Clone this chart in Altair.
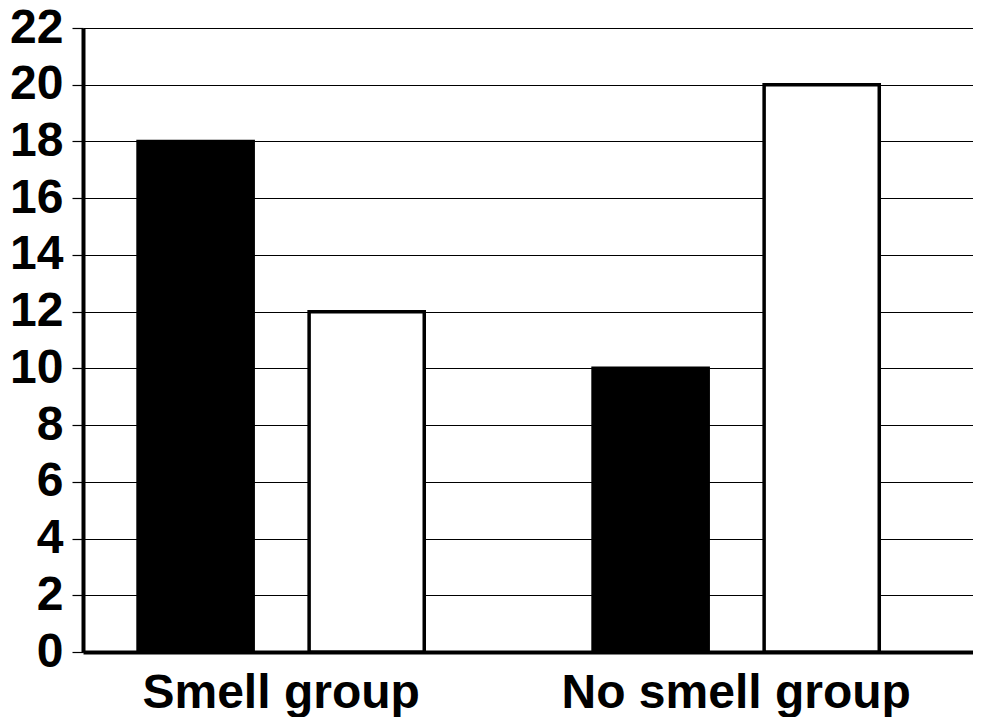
import altair as alt
import pandas as pd

groups = ["Smell group", "No smell group"]
series = ["A", "B"]
values_smell = [18, 12]
values_nosmell = [10, 20]
y_ticks = list(range(0, 23, 2))

rows = []
for s, v in zip(series, values_smell):
    rows.append({"group": groups[0], "series": s, "value": v})
for s, v in zip(series, values_nosmell):
    rows.append({"group": groups[1], "series": s, "value": v})
df = pd.DataFrame(rows)

FONT = "Liberation Sans"

chart = alt.Chart(df).mark_bar(stroke="black", strokeWidth=3.5).encode(
    x=alt.X("group:N", sort=groups, title=None,
            scale=alt.Scale(paddingInner=0.371, paddingOuter=0.1635, align=0.37),
            axis=alt.Axis(labelAngle=0, ticks=False, tickSize=0, domainWidth=4, domainColor="black",
                          labelFont=FONT, labelFontSize=48, labelFontWeight="bold",
                          labelColor="black", labelPadding=17, labelLimit=0, grid=False)),
    xOffset=alt.XOffset("series:N", sort=series,
                        scale=alt.Scale(paddingInner=0.327, paddingOuter=0)),
    y=alt.Y("value:Q", title=None,
            scale=alt.Scale(domain=[0, 22], nice=False),
            axis=alt.Axis(values=y_ticks, grid=True, gridColor="black", gridWidth=1.2,
                          gridOpacity=1, tickColor="black", tickSize=11, tickWidth=1.2,
                          domainWidth=4, domainColor="black",
                          labelFont=FONT, labelFontSize=48, labelFontWeight="bold",
                          labelColor="black", labelPadding=9, labelLimit=0)),
    fill=alt.Fill("series:N", sort=series,
                  scale=alt.Scale(domain=series, range=["black", "white"]), legend=None),
).properties(
    width=890, height=624,
    autosize=alt.AutoSizeParams(type="none"),
    padding={"left": 75, "top": 20, "right": 0, "bottom": 70},
).configure_view(stroke=None).configure(background="white")

chart.save("out.html", embed_options={"renderer": "svg", "actions": False})
